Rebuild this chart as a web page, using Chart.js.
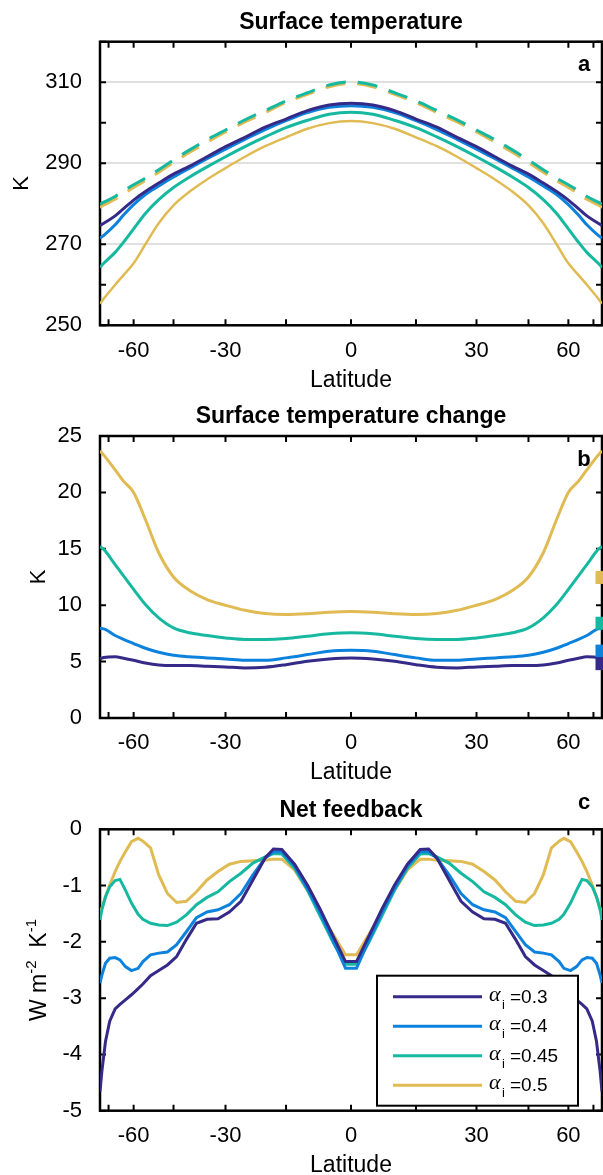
<!DOCTYPE html>
<html>
<head>
<meta charset="utf-8">
<script src="https://cdn.jsdelivr.net/npm/chart.js@4.4.1/dist/chart.umd.min.js"></script>
<style>
  html, body { margin: 0; padding: 0; background: #fff; }
  #page { position: relative; width: 603px; height: 1175px; overflow: hidden; }
  canvas { position: absolute; left: 0; }
</style>
</head>
<body>
<div id="page">
  <canvas id="chart-a" width="603" height="392" style="top:0px"></canvas>
  <canvas id="chart-b" width="603" height="392" style="top:394px"></canvas>
  <canvas id="chart-c" width="603" height="388" style="top:787px"></canvas>
</div>
<script>
const FONT = "'Liberation Sans', Arial, Helvetica, sans-serif";
const SERIF = "'Liberation Serif', 'Times New Roman', serif";

// latitude axis (drawn in sine of latitude)
const latTicks = [-90, -75, -60, -45, -30, -15, 0, 15, 30, 45, 60, 75, 90];
const latLabels = [-60, -30, 0, 30, 60];

const alphaLabels = ["0.3", "0.4", "0.45", "0.5"];
const colors = ["#352A87", "#0C82DC", "#16B9A0", "#E0BA52"];

// panel a: surface temperature (K)
const latSmooth = [-90, -80, -70, -65, -60, -55, -50, -45, -40, -35, -30, -25, -20, -15, -10, -5, 0,
                   5, 10, 15, 20, 25, 30, 35, 40, 45, 50, 55, 60, 65, 70, 80, 90];
const tempA03 = [274.6, 275.2, 277.0, 278.8, 280.9, 283.0, 285.1, 287.3, 289.3, 291.6, 294.1, 296.4, 298.9, 300.9, 303.0, 304.4, 304.8,
                 304.4, 303.0, 300.9, 298.9, 296.4, 294.1, 291.6, 289.3, 287.3, 285.1, 283.0, 280.9, 278.8, 277.0, 275.2, 274.6];
const tempA04 = [271.5, 272.2, 274.8, 277.2, 279.8, 282.3, 284.4, 286.6, 288.8, 291.1, 293.5, 295.9, 298.3, 300.5, 302.5, 303.8, 304.2,
                 303.8, 302.5, 300.5, 298.3, 295.9, 293.5, 291.1, 288.8, 286.6, 284.4, 282.3, 279.8, 277.2, 274.8, 272.2, 271.5];
const tempA045 = [264.3, 265.3, 268.0, 270.5, 273.8, 277.6, 281.0, 284.0, 286.6, 289.1, 291.6, 294.1, 296.5, 298.8, 300.6, 302.1, 302.6,
                  302.1, 300.6, 298.8, 296.5, 294.1, 291.6, 289.1, 286.6, 284.0, 281.0, 277.6, 273.8, 270.5, 268.0, 265.3, 264.3];
const tempA05 = [255.3, 256.6, 260.0, 262.4, 265.3, 270.0, 275.2, 279.6, 283.0, 286.0, 288.8, 291.6, 294.2, 296.4, 298.5, 299.9, 300.4,
                 299.9, 298.5, 296.4, 294.2, 291.6, 288.8, 286.0, 283.0, 279.6, 275.2, 270.0, 265.3, 262.4, 260.0, 256.6, 255.3];
const tempCtrl045 = [279.9, 280.4, 281.8, 283.2, 284.7, 286.3, 288.4, 290.8, 293.3, 295.8, 298.2, 300.7, 303.0, 305.4, 307.4, 309.3, 310.1,
                     309.3, 307.4, 305.4, 303.0, 300.7, 298.2, 295.8, 293.3, 290.8, 288.4, 286.3, 284.7, 283.2, 281.8, 280.4, 279.9];
const tempCtrl05 = [279.1, 279.7, 281.1, 282.5, 284.0, 285.7, 287.8, 290.2, 292.7, 295.2, 297.7, 300.2, 302.5, 305.0, 307.0, 308.9, 309.7,
                    308.9, 307.0, 305.0, 302.5, 300.2, 297.7, 295.2, 292.7, 290.2, 287.8, 285.7, 284.0, 282.5, 281.1, 279.7, 279.1];
const tempTicks = [250, 260, 270, 280, 290, 300, 310, 320];
const tempLabels = [250, 270, 290, 310];
const tempGrid = [270, 290, 310];

// panel b: surface temperature change (K)
const dTemp03 = [5.24, 5.36, 5.42, 5.30, 5.12, 4.88, 4.70, 4.65, 4.65, 4.59, 4.53, 4.44, 4.50, 4.73, 5.03, 5.24, 5.33,
                 5.24, 5.03, 4.73, 4.50, 4.44, 4.53, 4.59, 4.65, 4.65, 4.70, 4.88, 5.12, 5.30, 5.42, 5.36, 5.24];
const dTemp04 = [7.93, 7.90, 7.31, 6.96, 6.60, 6.18, 5.83, 5.56, 5.42, 5.33, 5.24, 5.12, 5.12, 5.33, 5.62, 5.92, 6.00,
                 5.92, 5.62, 5.33, 5.12, 5.12, 5.24, 5.33, 5.42, 5.56, 5.83, 6.18, 6.60, 6.96, 7.31, 7.90, 7.93];
const dTemp045 = [15.2, 14.95, 13.6, 12.6, 11.4, 10.06, 8.88, 7.99, 7.55, 7.31, 7.10, 6.96, 6.96, 7.04, 7.25, 7.46, 7.55,
                  7.46, 7.25, 7.04, 6.96, 6.96, 7.10, 7.31, 7.55, 7.99, 8.88, 10.06, 11.4, 12.6, 13.6, 14.95, 15.2];
const dTemp05 = [23.7, 23.3, 22.0, 21.0, 20.0, 17.6, 14.65, 12.5, 11.3, 10.5, 10.0, 9.55, 9.26, 9.17, 9.24, 9.38, 9.44,
                 9.38, 9.24, 9.17, 9.26, 9.55, 10.0, 10.5, 11.3, 12.5, 14.65, 17.6, 20.0, 21.0, 22.0, 23.3, 23.7];
const dTempMean = [4.82, 5.93, 8.40, 12.46];
const dTempTicks = [0, 5, 10, 15, 20, 25];

// panel c: net feedback (W m-2 K-1)
const latFeedback = [-90, -83, -78, -74, -70, -67, -64, -61, -58, -56, -53, -50, -47, -44, -41, -38, -35, -32, -29, -26, -23, -20, -18, -16, -13, -10, -7, -4, -1.25,
                     1.25, 4, 7, 10, 13, 16, 18, 20, 23, 26, 29, 32, 35, 38, 41, 44, 47, 50, 53, 56, 58, 61, 64, 67, 70, 74, 78, 83, 90];
const fb03 = [-4.66, -4.30, -3.77, -3.41, -3.19, -3.11, -3.03, -2.94, -2.83, -2.75, -2.60, -2.51, -2.41, -2.26, -1.96, -1.67, -1.60, -1.59, -1.47, -1.28, -0.90, -0.51, -0.35, -0.36, -0.62, -0.99, -1.43, -1.91, -2.35,
              -2.35, -1.91, -1.43, -0.99, -0.62, -0.36, -0.35, -0.51, -0.90, -1.28, -1.47, -1.59, -1.60, -1.67, -1.96, -2.26, -2.41, -2.51, -2.60, -2.75, -2.83, -2.94, -3.03, -3.11, -3.19, -3.41, -3.77, -4.30, -4.66];
const fb04 = [-2.73, -2.59, -2.38, -2.29, -2.28, -2.32, -2.44, -2.51, -2.47, -2.35, -2.23, -2.20, -2.18, -2.05, -1.82, -1.57, -1.47, -1.43, -1.34, -1.14, -0.81, -0.51, -0.40, -0.40, -0.65, -1.05, -1.49, -1.99, -2.47,
              -2.47, -1.99, -1.49, -1.05, -0.65, -0.40, -0.40, -0.51, -0.81, -1.14, -1.34, -1.43, -1.47, -1.57, -1.82, -2.05, -2.18, -2.20, -2.23, -2.35, -2.47, -2.51, -2.44, -2.32, -2.28, -2.29, -2.38, -2.59, -2.73];
const fb045 = [-1.61, -1.43, -1.20, -1.02, -0.91, -0.89, -1.08, -1.31, -1.51, -1.60, -1.67, -1.70, -1.71, -1.65, -1.52, -1.34, -1.21, -1.11, -0.93, -0.78, -0.60, -0.49, -0.43, -0.44, -0.69, -1.08, -1.55, -2.02, -2.40,
               -2.40, -2.02, -1.55, -1.08, -0.69, -0.44, -0.43, -0.49, -0.60, -0.78, -0.93, -1.11, -1.21, -1.34, -1.52, -1.65, -1.71, -1.70, -1.67, -1.60, -1.51, -1.31, -1.08, -0.89, -0.91, -1.02, -1.20, -1.43, -1.61];
const fb05 = [-1.49, -1.40, -1.20, -0.99, -0.75, -0.57, -0.40, -0.22, -0.16, -0.21, -0.33, -0.81, -1.14, -1.30, -1.28, -1.11, -0.90, -0.75, -0.62, -0.57, -0.56, -0.55, -0.53, -0.53, -0.72, -1.08, -1.49, -1.88, -2.23,
              -2.23, -1.88, -1.49, -1.08, -0.72, -0.53, -0.53, -0.55, -0.56, -0.57, -0.62, -0.75, -0.90, -1.11, -1.28, -1.30, -1.14, -0.81, -0.33, -0.21, -0.16, -0.22, -0.40, -0.57, -0.75, -0.99, -1.20, -1.40, -1.49];
const fbTicks = [-5, -4, -3, -2, -1, 0];


// x axis is linear in sin(latitude)
class SinLatScale extends Chart.LinearScale {
    getPixelForValue(value) {
        return this.getPixelForDecimal((Math.sin(value * Math.PI / 180) + 1) / 2);
    }
    getValueForPixel(pixel) {
        return Math.asin(this.getDecimalForPixel(pixel) * 2 - 1) * 180 / Math.PI;
    }
}
SinLatScale.id = "sinlat";
SinLatScale.defaults = Chart.LinearScale.defaults;
Chart.register(SinLatScale);


function points(lats, vals) {
    return lats.map((lat, i) => ({ x: lat, y: vals[i] }));
}

function line(lats, vals, color, extra) {
    return Object.assign({
        data: points(lats, vals),
        borderColor: color,
        borderWidth: 3,
        pointRadius: 0,
        fill: false,
        order: 1
    }, extra || {});
}

function xAxis(height, areaBottom) {
    return {
        type: "sinlat",
        min: -90,
        max: 90,
        afterBuildTicks: s => { s.ticks = latTicks.map(v => ({ value: v })); },
        afterFit: s => {
            s.height = height - areaBottom;
            s.paddingLeft = 0;
            s.paddingRight = 0;
        },
        grid: { display: false, drawTicks: false },
        border: { display: false },
        ticks: {
            autoSkip: false,
            maxRotation: 0,
            padding: 12,
            color: "#000",
            font: { family: FONT, size: 22 },
            callback: v => latLabels.includes(v) ? String(v) : ""
        }
    };
}

function yAxis(min, max, tickVals, labelVals, gridVals) {
    return {
        type: "linear",
        min: min,
        max: max,
        afterBuildTicks: s => { s.ticks = tickVals.map(v => ({ value: v })); },
        afterFit: s => { s.width = 100; },
        grid: {
            display: !!gridVals,
            drawTicks: false,
            lineWidth: 2,
            color: c => (gridVals && c.tick && gridVals.includes(c.tick.value)) ? "#e0e0e0" : "rgba(0,0,0,0)"
        },
        border: { display: false },
        ticks: {
            autoSkip: false,
            padding: 18,
            color: "#000",
            font: { family: FONT, size: 22 },
            callback: v => labelVals.includes(v) ? String(v) : ""
        }
    };
}

// box and inward tick marks
const framePlugin = {
    id: "frame",
    beforeDatasetsDraw(chart) {
        const { ctx, chartArea: a, scales } = chart;
        ctx.save();
        ctx.strokeStyle = "#000";
        ctx.lineWidth = 2;
        ctx.beginPath();
        scales.x.ticks.forEach(t => {
            if (Math.abs(t.value) === 90) return;
            const px = scales.x.getPixelForValue(t.value);
            ctx.moveTo(px, a.bottom); ctx.lineTo(px, a.bottom - 6);
            ctx.moveTo(px, a.top); ctx.lineTo(px, a.top + 6);
        });
        scales.y.ticks.forEach(t => {
            const py = scales.y.getPixelForValue(t.value);
            ctx.moveTo(a.left, py); ctx.lineTo(a.left + 6, py);
            ctx.moveTo(a.right, py); ctx.lineTo(a.right - 6, py);
        });
        ctx.stroke();
        ctx.lineWidth = 2.5;
        ctx.strokeRect(a.left, a.top, a.right - a.left, a.bottom - a.top);
        ctx.restore();
    }
};

function drawYTitle(ctx, parts, baseX, centerY) {
    ctx.save();
    ctx.fillStyle = "#000";
    ctx.translate(baseX, centerY);
    ctx.rotate(-Math.PI / 2);
    ctx.textBaseline = "alphabetic";
    ctx.textAlign = "left";
    let total = 0;
    parts.forEach(p => { ctx.font = p[1] + "px " + FONT; total += ctx.measureText(p[0]).width; });
    let x = -total / 2;
    parts.forEach(p => {
        ctx.font = p[1] + "px " + FONT;
        ctx.fillText(p[0], x, p[2]);
        x += ctx.measureText(p[0]).width;
    });
    ctx.restore();
}

function drawLegend(chart) {
    const { ctx, chartArea: a } = chart;
    const w = 201, h = 130;
    const left = a.right - 24 - w, top = a.bottom - 5 - h;
    ctx.save();
    ctx.fillStyle = "#fff";
    ctx.fillRect(left, top, w, h);
    ctx.lineWidth = 2;
    ctx.strokeStyle = "#000";
    ctx.strokeRect(left, top, w, h);
    alphaLabels.forEach((lab, i) => {
        const y = top + 21 + i * 29.5;
        ctx.strokeStyle = chart.data.datasets[i].borderColor;
        ctx.lineWidth = 3;
        ctx.beginPath();
        ctx.moveTo(left + 16, y);
        ctx.lineTo(left + 105, y);
        ctx.stroke();
        ctx.fillStyle = "#000";
        ctx.textAlign = "left";
        ctx.textBaseline = "alphabetic";
        ctx.font = "italic 22px " + SERIF;
        ctx.fillText("α", left + 112, y + 4);
        ctx.font = "13px " + FONT;
        ctx.fillText("i", left + 125, y + 12);
        ctx.font = "19px " + FONT;
        ctx.fillText("=" + lab, left + 133, y + 6);
    });
    ctx.restore();
}

function decor(cfg) {
    return {
        id: "decor",
        afterDraw(chart) {
            const { ctx, chartArea: a } = chart;
            const cx = (a.left + a.right) / 2;
            ctx.save();
            ctx.fillStyle = "#000";
            ctx.textAlign = "center";
            ctx.textBaseline = "middle";
            ctx.font = "bold 23px " + FONT;
            ctx.fillText(cfg.title, cx, a.top - 19);
            ctx.font = "bold 22px " + FONT;
            ctx.fillText(cfg.letter, 584, a.top + cfg.letterDy);
            ctx.font = "23px " + FONT;
            ctx.fillText("Latitude", cx, a.bottom + 55);
            ctx.restore();
            drawYTitle(ctx, cfg.yTitle, cfg.yTitleX, (a.top + a.bottom) / 2);
            if (cfg.legend) drawLegend(chart);
        }
    };
}

function makeChart(id, height, areaTop, areaBottom, datasets, y, cfg) {
    return new Chart(document.getElementById(id), {
        type: "line",
        data: { datasets: datasets },
        options: {
            responsive: false,
            animation: false,
            events: [],
            layout: { autoPadding: false, padding: { top: areaTop, right: 1, left: 0, bottom: 0 } },
            plugins: { legend: { display: false }, tooltip: { enabled: false }, title: { display: false } },
            scales: { x: xAxis(height, areaBottom), y: y }
        },
        plugins: [framePlugin, decor(cfg)]
    });
}

const smooth = { cubicInterpolationMode: "monotone" };

makeChart("chart-a", 392, 41.7, 325.3, [
    line(latSmooth, tempA03, colors[0], smooth),
    line(latSmooth, tempA04, colors[1], smooth),
    line(latSmooth, tempA045, colors[2], smooth),
    line(latSmooth, tempA05, colors[3], Object.assign({ borderWidth: 2.5 }, smooth)),
    line(latSmooth, tempCtrl045, colors[2], Object.assign({ borderDash: [20, 12] }, smooth)),
    line(latSmooth, tempCtrl05, colors[3], Object.assign({ borderDash: [20, 12] }, smooth))
], yAxis(250, 320, tempTicks, tempLabels, tempGrid), {
    title: "Surface temperature", letter: "a", letterDy: 23,
    yTitle: [["K", 22, 0]], yTitleX: 28
});

const meanMarkers = dTempMean.map((v, i) => ({
    data: [{ x: 90, y: v }],
    showLine: false,
    pointStyle: "rect",
    pointRadius: 9.2,
    pointBorderWidth: 0,
    pointBackgroundColor: colors[i],
    borderColor: colors[i],
    clip: false,
    order: 0
}));

makeChart("chart-b", 392, 42, 324, [
    line(latSmooth, dTemp03, colors[0], smooth),
    line(latSmooth, dTemp04, colors[1], smooth),
    line(latSmooth, dTemp045, colors[2], smooth),
    line(latSmooth, dTemp05, colors[3], smooth)
].concat(meanMarkers), yAxis(0, 25, dTempTicks, dTempTicks, null), {
    title: "Surface temperature change", letter: "b", letterDy: 24,
    yTitle: [["K", 22, 0]], yTitleX: 45
});

makeChart("chart-c", 388, 42.3, 323.7, [
    line(latFeedback, fb03, colors[0]),
    line(latFeedback, fb04, colors[1]),
    line(latFeedback, fb045, colors[2]),
    line(latFeedback, fb05, colors[3])
], yAxis(-5, 0, fbTicks, fbTicks, null), {
    title: "Net feedback", letter: "c", letterDy: -26,
    yTitle: [["W m", 23, 0], ["-2", 15, -10], ["  K", 23, 0], ["-1", 15, -10]], yTitleX: 46,
    legend: true
});
</script>
</body>
</html>
